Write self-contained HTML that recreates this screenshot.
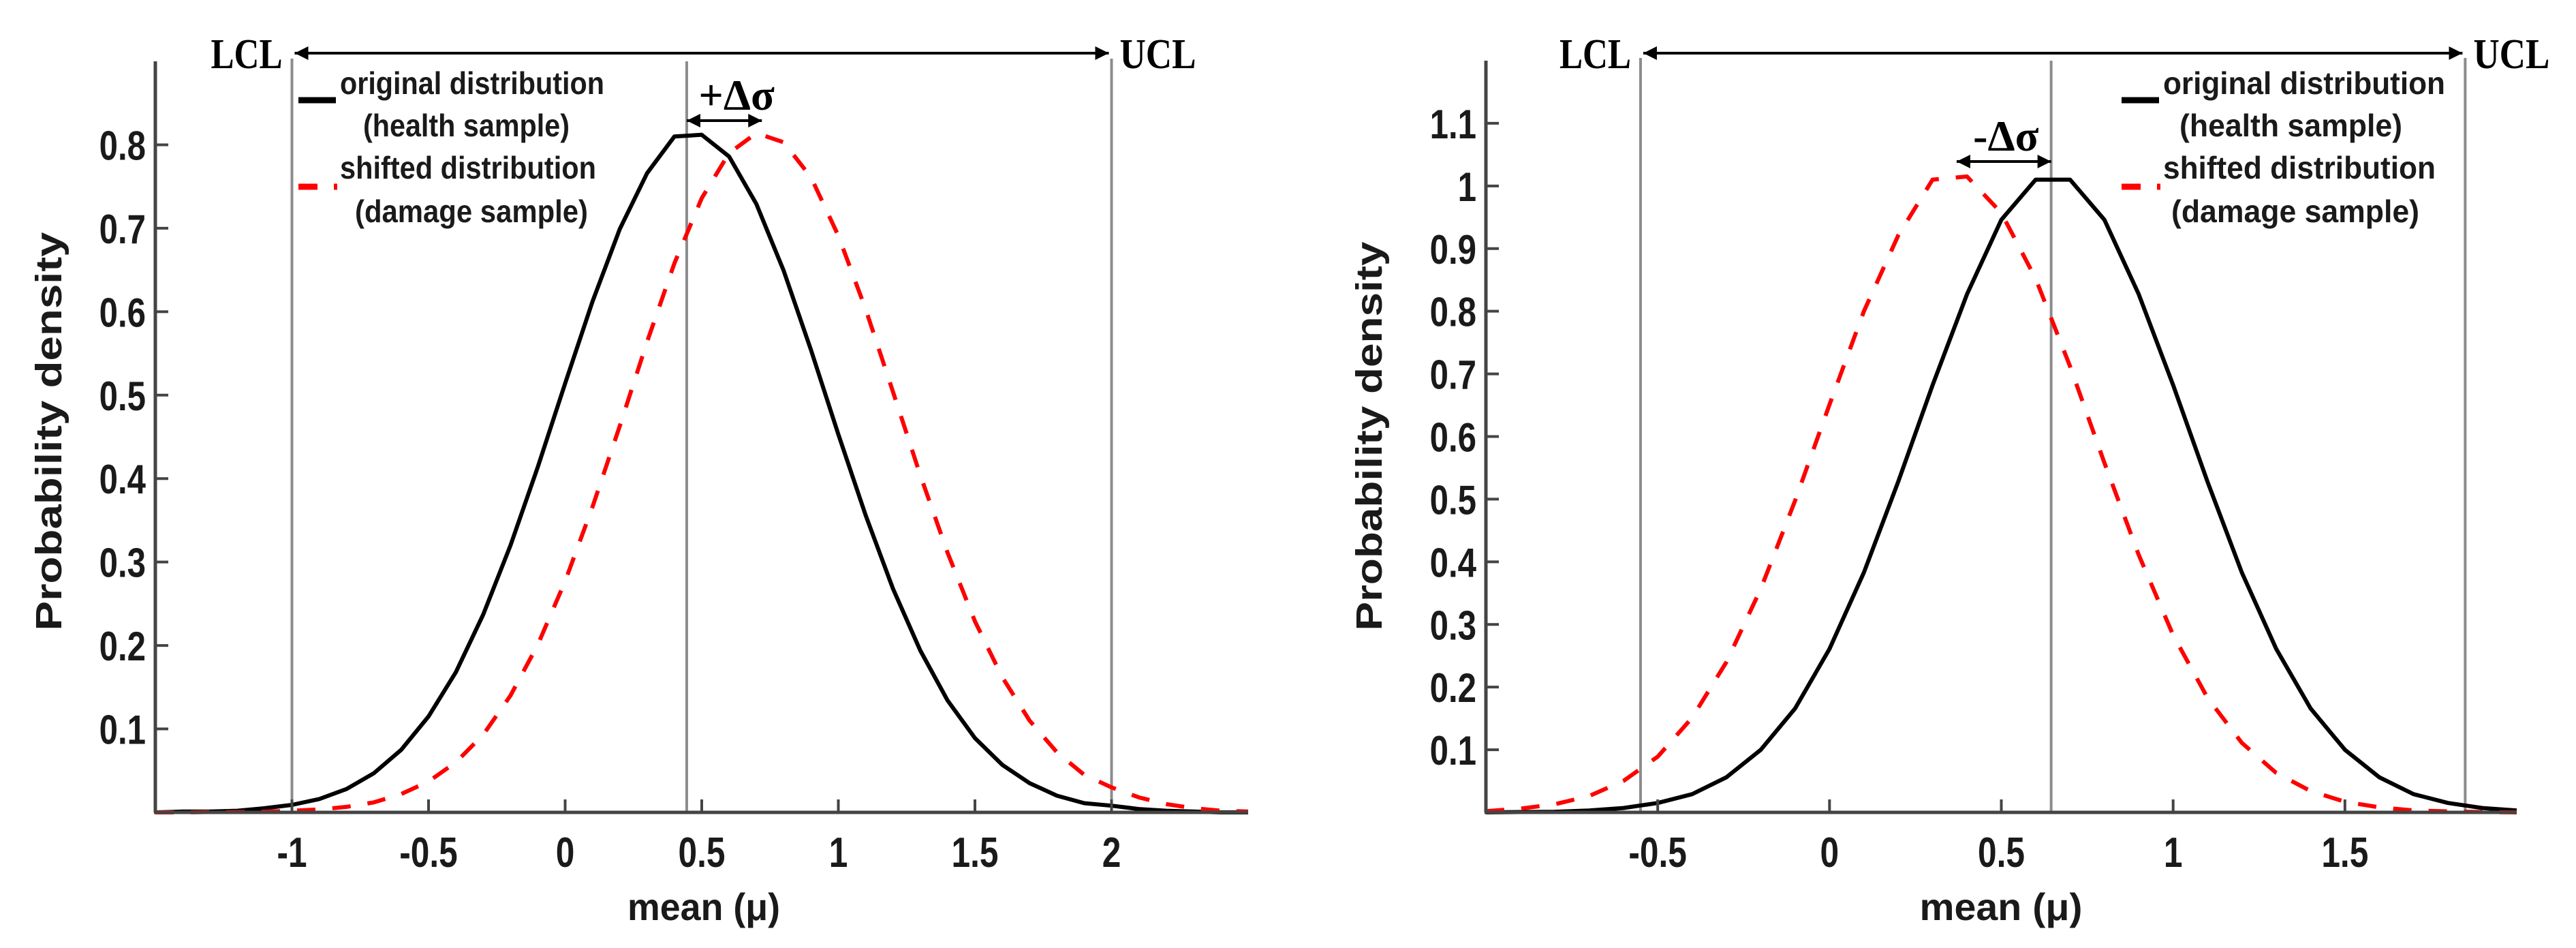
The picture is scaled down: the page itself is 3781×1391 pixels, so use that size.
<!DOCTYPE html>
<html><head><meta charset="utf-8"><style>
html,body{margin:0;padding:0;background:#fff;}
svg{display:block;}
text{font-family:"Liberation Sans",sans-serif;font-weight:bold;fill:#1a1a1a;}
.serif{font-family:"Liberation Serif",serif;fill:#000;}
</style></head><body>
<svg id="chart" width="3781" height="1391" viewBox="0 0 3781 1391" xmlns="http://www.w3.org/2000/svg">
<defs>
<marker id="ah" markerWidth="6" markerHeight="6" refX="5" refY="3" orient="auto-start-reverse" markerUnits="strokeWidth"><path d="M0,0.5 L5,3 L0,5.5 Z" fill="#000"/></marker>
</defs>
</svg>
<script>
// ---- Left panel data ----
const leftX = [-1.5,-1.4,-1.3,-1.2,-1.1,-1.0,-0.9,-0.8,-0.7,-0.6,-0.5,-0.4,-0.3,-0.2,-0.1,0,0.1,0.2,0.3,0.4,0.5,0.6,0.7,0.8,0.9,1.0,1.1,1.2,1.3,1.4,1.5,1.6,1.7,1.8,1.9,2.0,2.1,2.2,2.3,2.4,2.5];
const leftOriginal = [0,0.001,0.001,0.002,0.005,0.009,0.016,0.028,0.047,0.075,0.115,0.168,0.237,0.320,0.414,0.514,0.612,0.699,0.766,0.810,0.812,0.786,0.729,0.649,0.554,0.453,0.356,0.268,0.194,0.134,0.089,0.057,0.035,0.020,0.011,0.008,0.004,0.002,0.001,0,0];
const leftShifted = [0,0,0.0005,0.0004,0.0008,0.002,0.0034,0.0066,0.012,0.022,0.037,0.060,0.093,0.140,0.201,0.277,0.366,0.463,0.564,0.658,0.736,0.790,0.814,0.803,0.761,0.691,0.603,0.504,0.404,0.311,0.229,0.162,0.110,0.072,0.045,0.030,0.018,0.010,0.005,0.002,0.001];
const leftXTicks = [-1,-0.5,0,0.5,1,1.5,2];
const leftXTickLabels = ["-1","-0.5","0","0.5","1","1.5","2"];
const leftYTicks = [0.1,0.2,0.3,0.4,0.5,0.6,0.7,0.8];
const leftLimits = [-1, 0.445, 2]; // LCL, mean, UCL
const leftShift = [0.445, 0.72];
// ---- Right panel data ----
const rightX = [-1.0,-0.9,-0.8,-0.7,-0.6,-0.5,-0.4,-0.3,-0.2,-0.1,0,0.1,0.2,0.3,0.4,0.5,0.6,0.7,0.8,0.9,1.0,1.1,1.2,1.3,1.4,1.5,1.6,1.7,1.8,1.9,2.0];
const rightOriginal = [0,0.0005,0.001,0.003,0.007,0.015,0.029,0.056,0.100,0.166,0.261,0.383,0.528,0.682,0.827,0.946,1.01,1.01,0.946,0.827,0.682,0.528,0.383,0.261,0.166,0.100,0.056,0.029,0.015,0.007,0.003];
const rightShifted = [0.002,0.006,0.013,0.026,0.050,0.089,0.151,0.240,0.357,0.498,0.651,0.800,0.921,1.01,1.015,0.957,0.852,0.712,0.558,0.411,0.283,0.183,0.111,0.063,0.034,0.017,0.008,0.003,0.0015,0.0005,0];
const rightXTicks = [-0.5,0,0.5,1,1.5];
const rightXTickLabels = ["-0.5","0","0.5","1","1.5"];
const rightYTicks = [0.1,0.2,0.3,0.4,0.5,0.6,0.7,0.8,0.9,1,1.1];
const rightYTickLabels = ["0.1","0.2","0.3","0.4","0.5","0.6","0.7","0.8","0.9","1","1.1"];
const rightLimits = [-0.55, 0.645, 1.85];
const rightShift = [0.645, 0.37];

const NS = "http://www.w3.org/2000/svg";
const svg = document.getElementById('chart');
function mk(tag, attrs, parent){
  const e = document.createElementNS(NS, tag);
  for (const k in attrs) e.setAttribute(k, attrs[k]);
  (parent||svg).appendChild(e);
  return e;
}
function squeeze(t, f){
  const w = t.getComputedTextLength();
  if (w>0){ t.setAttribute('textLength', (w*f).toFixed(1)); t.setAttribute('lengthAdjust','spacingAndGlyphs'); }
}
function fitText(t, w){
  t.setAttribute('textLength', w); t.setAttribute('lengthAdjust','spacingAndGlyphs');
}

function panel(cfg){
  const g = mk('g', {});
  
  
  const sx = v => cfg.px0 + (v - cfg.xmin) / (cfg.xmax - cfg.xmin) * (cfg.px1 - cfg.px0);
  const sy = v => cfg.py0 - (v - 0) / (cfg.ymax) * (cfg.py0 - cfg.py1);
  // limit lines
  cfg.limits.forEach((v,i) => {
    const l = mk('line', {x1:sx(v), x2:sx(v), y1: i===1?cfg.py1:cfg.py1-4, y2:cfg.py0, stroke:'#8c8c8c','stroke-width':4}, g);
    
    
  });
  // series
  const pathOf = (xs, ys) => xs.map((x,i)=>(i?'L':'M')+sx(x).toFixed(1)+','+sy(ys[i]).toFixed(1)).join(' ');
  const po = mk('path', {d:pathOf(cfg.xs, cfg.orig), fill:'none', stroke:'#000','stroke-width':6,'stroke-linejoin':'round'}, g);
  
  
  const ps = mk('path', {d:pathOf(cfg.xs, cfg.shift), fill:'none', stroke:'#ff0000','stroke-width':6,'stroke-dasharray':'27 25'}, g);
  
  
  // axes
  const ax = mk('line', {x1:cfg.px0-2, x2:cfg.px1, y1:cfg.py0, y2:cfg.py0, stroke:'#444','stroke-width':5}, g);
  
  
  const ay = mk('line', {x1:cfg.px0, x2:cfg.px0, y1:cfg.py1, y2:cfg.py0, stroke:'#444','stroke-width':5}, g);
  
  
  cfg.xticks.forEach((v,i) => {
    const t = mk('line', {x1:sx(v), x2:sx(v), y1:cfg.py0, y2:cfg.py0-19, stroke:'#444','stroke-width':4}, g);
    
    
    const lb = mk('text', {x:sx(v), y:cfg.py0+80, 'font-size':62, 'text-anchor':'middle', fill:'#222'}, g);
    lb.textContent = cfg.xlabels[i];
    
    
    squeeze(lb, 0.8);
  });
  cfg.yticks.forEach((v,i) => {
    const t = mk('line', {x1:cfg.px0, x2:cfg.px0+19, y1:sy(v), y2:sy(v), stroke:'#444','stroke-width':4}, g);
    
    
    const lb = mk('text', {x:cfg.px0-14, y:sy(v)+22, 'font-size':60, 'text-anchor':'end', fill:'#222'}, g);
    lb.textContent = cfg.ylabels[i];
    
    
    squeeze(lb, 0.82);
  });
  // titles
  const xt = mk('text', {x:cfg.xTitleX, y:1350, 'font-size':56, 'text-anchor':'middle', fill:'#222'}, g);
  xt.textContent = 'mean (μ)';
  
  
  fitText(xt, cfg.xTitleW);
  const yt = mk('text', {x:0, y:0, 'font-size':54, 'text-anchor':'middle', fill:'#222', transform:`translate(${cfg.yTitleX},${cfg.yTitleY}) rotate(-90)`}, g);
  yt.textContent = 'Probability density';
  
  
  fitText(yt, cfg.yTitleW);
  // control limit arrow
  const ca = mk('line', {x1:sx(cfg.limits[0])+4, x2:sx(cfg.limits[2])-4, y1:78, y2:78, stroke:'#000','stroke-width':4,'marker-start':'url(#ah)','marker-end':'url(#ah)'}, g);
  
  
  const lcl = mk('text', {x:sx(cfg.limits[0])-14, y:100, 'font-size':62, 'text-anchor':'end', class:'serif'}, g);
  lcl.textContent = 'LCL';
  
  
  fitText(lcl, 105);
  const ucl = mk('text', {x:sx(cfg.limits[2])+12, y:100, 'font-size':62, class:'serif'}, g);
  ucl.textContent = 'UCL';
  
  
  fitText(ucl, 112);
  // shift arrow
  const sa = mk('line', {x1:sx(cfg.shiftPts[0]), x2:sx(cfg.shiftPts[1]), y1:cfg.shiftY, y2:cfg.shiftY, stroke:'#000','stroke-width':4,'marker-start':'url(#ah)','marker-end':'url(#ah)'}, g);
  
  
  const st = mk('text', {x:(sx(cfg.shiftPts[0])+sx(cfg.shiftPts[1]))/2 + cfg.shiftDx, y:cfg.shiftY-16, 'font-size':64, 'text-anchor':'middle', class:'serif'}, g);
  st.textContent = cfg.shiftLabel;
  
  
  // legend
  const lg = mk('g', {}, g);
  
  
  const L = cfg.legend;
  const l1 = mk('line', {x1:L.x, x2:L.x+55, y1:147, y2:147, stroke:'#000','stroke-width':9}, lg);
  
  
  const l2 = mk('line', {x1:L.x, x2:L.x+57, y1:274, y2:274, stroke:'#ff0000','stroke-width':9,'stroke-dasharray':'28 24'}, lg);
  
  
  L.items.forEach(it => {
    const t = mk('text', {x:it[0], y:it[1], 'font-size':46}, lg);
    t.textContent = it[3];
    
    
    fitText(t, it[2]);
  });
}

panel({name:'left-panel', xs:leftX, orig:leftOriginal, shift:leftShifted,
  xmin:-1.5, xmax:2.5, ymax:0.9, px0:228, px1:1832, py0:1192, py1:90,
  xticks:leftXTicks, xlabels:leftXTickLabels, yticks:leftYTicks, ylabels:leftYTicks.map(String),
  limits:leftLimits, shiftPts:leftShift, shiftY:177, shiftDx:18, shiftLabel:'+Δσ',
  xTitleX:1033, xTitleW:224, yTitleX:90, yTitleY:633, yTitleW:585,
  legend:{x:438, items:[[499,138,388,'original distribution'],[533,200,303,'(health sample)'],[499,262,376,'shifted distribution'],[521,326,342,'(damage sample)']]}
});
panel({name:'right-panel', xs:rightX, orig:rightOriginal, shift:rightShifted,
  xmin:-1, xmax:2, ymax:1.2, px0:2181, px1:3694, py0:1192, py1:89,
  xticks:rightXTicks, xlabels:rightXTickLabels, yticks:rightYTicks, ylabels:rightYTickLabels,
  limits:rightLimits, shiftPts:rightShift, shiftY:237, shiftDx:3, shiftLabel:'-Δσ',
  xTitleX:2937, xTitleW:239, yTitleX:2028, yTitleY:640, yTitleW:571,
  legend:{x:3114, items:[[3175,138,414,'original distribution'],[3199,200,327,'(health sample)'],[3175,262,400,'shifted distribution'],[3187,326,364,'(damage sample)']]}
});
</script>
</body></html>
